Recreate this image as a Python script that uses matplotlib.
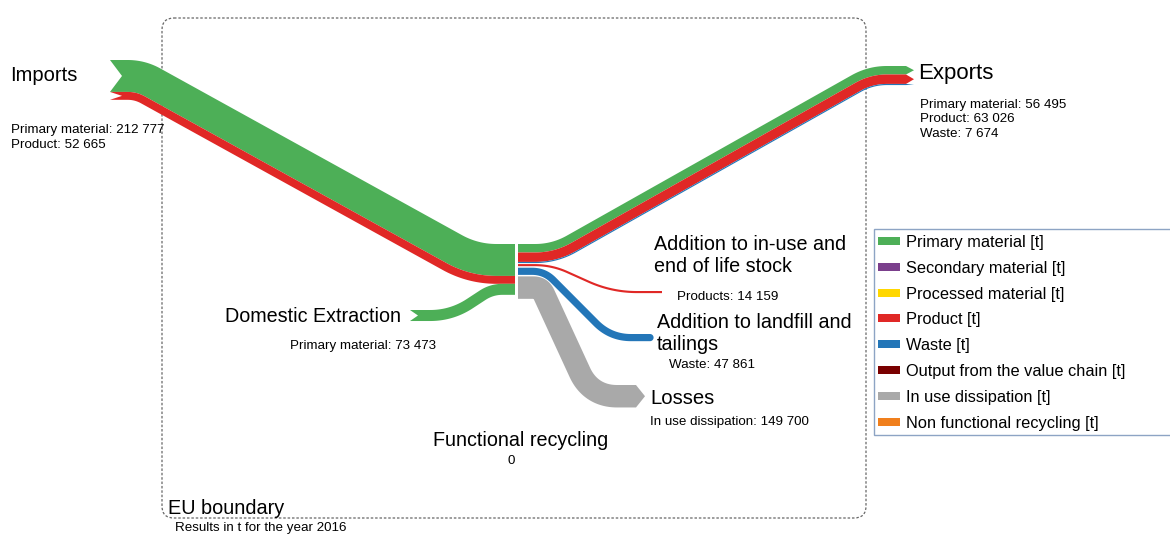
import numpy as np
import matplotlib
matplotlib.use("Agg")
import matplotlib.pyplot as plt
from matplotlib.patches import Polygon, FancyBboxPatch, Rectangle

plt.rcParams['font.family'] = ['Liberation Sans', 'DejaVu Sans']

# ---- data (t, year 2016) ----
import_primary = 212777
import_product = 52665
domestic_primary = 73473
export_primary = 56495
export_product = 63026
export_waste = 7674
stock_products = 14159
landfill_waste = 47861
losses_dissipation = 149700
functional_recycling = 0

legend_labels = ["Primary material [t]", "Secondary material [t]", "Processed material [t]",
                 "Product [t]", "Waste [t]", "Output from the value chain [t]",
                 "In use dissipation [t]", "Non functional recycling [t]"]

GREEN = '#4daf57'
PURPLE = '#7b3f8c'
YELLOW = '#ffd700'
RED = '#e02826'
BLUE = '#2376b8'
DARKRED = '#7a0000'
GREY = '#a9a9a9'
ORANGE = '#f07f1d'
legend_colors = [GREEN, PURPLE, YELLOW, RED, BLUE, DARKRED, GREY, ORANGE]

SCALE = 1.5e-4   # px per tonne
DY = 1.5         # small vertical nudge for labels


def fmt(v):
    return f"{v:,}".replace(",", " ")


def smooth_path(pts, r=35, n=30):
    """Polyline with rounded corners (quadratic bezier), densely sampled."""
    pts = [np.array(p, float) for p in pts]
    out = [pts[0]]
    for i in range(1, len(pts) - 1):
        a, b, c = pts[i - 1], pts[i], pts[i + 1]
        da = np.linalg.norm(b - a)
        dc = np.linalg.norm(c - b)
        rr = min(r, da / 2, dc / 2)
        p0 = b + (a - b) / da * rr
        p2 = b + (c - b) / dc * rr
        last = out[-1]
        for t in np.linspace(0, 1, 15)[1:]:
            out.append(last + (p0 - last) * t)
        for t in np.linspace(0, 1, n)[1:]:
            out.append((1 - t) ** 2 * p0 + 2 * (1 - t) * t * b + t ** 2 * p2)
    last = out[-1]
    for t in np.linspace(0, 1, 15)[1:]:
        out.append(last + (pts[-1] - last) * t)
    return np.array(out)


def draw_band(ax, path, off0, off1, color, tip=0, notch=0, round_end=False):
    d = np.gradient(path, axis=0)
    d /= np.linalg.norm(d, axis=1)[:, None]
    nrm = np.column_stack([-d[:, 1], d[:, 0]])
    top = path + nrm * off0
    bot = path + nrm * off1
    pts = list(top)
    mid_off = (off0 + off1) / 2
    if tip:
        pts.append(path[-1] + nrm[-1] * mid_off + d[-1] * tip)
    if round_end:
        rad = (off1 - off0) / 2
        c = path[-1] + nrm[-1] * mid_off
        for a in np.linspace(0, np.pi, 20):
            pts.append(c - nrm[-1] * rad * np.cos(a) + d[-1] * rad * np.sin(a))
    pts += list(bot[::-1])
    if notch:
        pts.append(path[0] + nrm[0] * mid_off + d[0] * notch)
    ax.add_patch(Polygon(np.array(pts), closed=True, facecolor=color,
                         edgecolor='none', zorder=3))


def draw_bundle(ax, waypoints, values, colors, r=35, tip=0, notch=0, round_end=False):
    path = smooth_path(waypoints, r=r)
    off = 0.0
    for v, c in zip(values, colors):
        w = v * SCALE
        draw_band(ax, path, off, off + w, c, tip=tip, notch=notch, round_end=round_end)
        off += w


def label(ax, x, y, s, size, **kw):
    ax.text(x, y + DY, s, fontsize=size, va='center', **kw)


fig = plt.figure(figsize=(11.7, 5.35), dpi=100)
ax = fig.add_axes([0, 0, 1, 1])
ax.set_xlim(0, 1170)
ax.set_ylim(535, 0)
ax.axis('off')

# EU boundary
ax.add_patch(FancyBboxPatch((162, 18), 704, 500, boxstyle="round,pad=0,rounding_size=12",
                            facecolor='none', edgecolor='#666666', linewidth=0.9,
                            linestyle=(0, (2, 1.5)), zorder=1))

node_top = 244
imp_w = (import_primary + import_product) * SCALE

# Imports
draw_bundle(ax, [(110, 60), (145, 60), (478, node_top), (515, node_top)],
            [import_primary, import_product], [GREEN, RED], r=45, notch=12)
# Domestic extraction
draw_bundle(ax, [(410, 310), (450, 310), (490, node_top + imp_w), (515, node_top + imp_w)],
            [domestic_primary], [GREEN], r=25, notch=8)
# Exports
draw_bundle(ax, [(518, node_top), (552, node_top), (868, 66), (906, 66)],
            [export_primary, export_product, export_waste], [GREEN, RED, BLUE],
            r=45, tip=8)
y = node_top + (export_primary + export_product + export_waste) * SCALE + 1
# Addition to stock (products)
draw_bundle(ax, [(518, y), (552, y), (612, 291), (662, 291)],
            [stock_products], [RED], r=30)
y += stock_products * SCALE + 1.5
# Landfill and tailings
draw_bundle(ax, [(518, y), (546, y), (612, 334), (650, 334)],
            [landfill_waste], [BLUE], r=35, round_end=True)
y += landfill_waste * SCALE + 1.5
# Losses
draw_bundle(ax, [(518, y), (548, y), (598, 385), (636, 385)],
            [losses_dissipation], [GREY], r=40, tip=9)

# Labels
mid = 14.2
small = 9.6
label(ax, 10, 74, "Imports", 14.5)
label(ax, 11, 129, f"Primary material: {fmt(import_primary)}", small)
label(ax, 11, 143, f"Product: {fmt(import_product)}", small)

label(ax, 918, 72, "Exports", 16)
label(ax, 920, 118, f"Primary material: {fmt(export_primary)}\nProduct: {fmt(export_product)}\n"
      f"Waste: {fmt(export_waste)}", small, linespacing=1.3)

label(ax, 654, 254, "Addition to in-use and\nend of life stock", mid, linespacing=1.2)
label(ax, 677, 296, f"Products: {fmt(stock_products)}", small)
label(ax, 657, 332, "Addition to landfill and\ntailings", mid, linespacing=1.2)
label(ax, 669, 364, f"Waste: {fmt(landfill_waste)}", small)
label(ax, 650, 397, "Losses", mid + 0.4)
label(ax, 650, 420, f"In use dissipation: {fmt(losses_dissipation)}", small)

label(ax, 401, 315, "Domestic Extraction", mid, ha='right')
label(ax, 290, 344, f"Primary material: {fmt(domestic_primary)}", small)

label(ax, 433, 439, "Functional recycling", mid)
label(ax, 508, 460, str(functional_recycling), small)

label(ax, 168, 507, "EU boundary", 14.3)
ax.text(175, 528, "Results in t for the year 2016", fontsize=small, va='center')

# Legend
ax.add_patch(Rectangle((874, 229), 300, 206, facecolor='white', edgecolor='#8da4c4',
                       linewidth=1, zorder=2))
for i, (lab, col) in enumerate(zip(legend_labels, legend_colors)):
    yy = 241 + i * 25.8
    ax.add_patch(Rectangle((878, yy - 4), 22, 8, facecolor=col, edgecolor='none', zorder=3))
    label(ax, 906, yy, lab, 11.8, zorder=4)

fig.savefig("out.png", dpi=100)
